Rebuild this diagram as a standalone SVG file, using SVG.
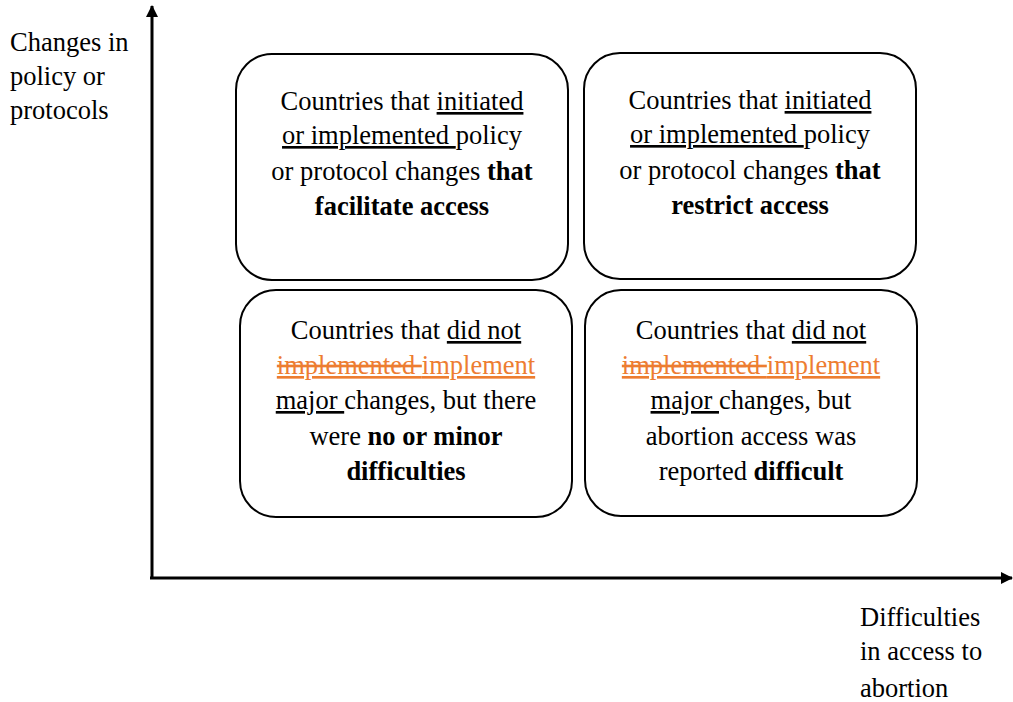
<svg xmlns="http://www.w3.org/2000/svg" width="1013" height="702" viewBox="0 0 1013 702">
  <style>
    .box { fill: #ffffff; stroke: #000000; stroke-width: 2; }
    text { font-family: 'Liberation Serif', 'Times New Roman', serif; font-size: 26.5px; fill: #000000; }
    .c { text-anchor: middle; }
    .b { font-weight: bold; }
    .u { text-decoration: underline; }
    .del { fill: #ED7D31; text-decoration: underline line-through; }
    .ins { fill: #ED7D31; text-decoration: underline; }
    .axis { stroke: #000000; stroke-width: 3; fill: none; }
  </style>
  <defs>
    <marker id="arrow" viewBox="0 0 12 12" refX="11" refY="6" markerWidth="12" markerHeight="12" markerUnits="userSpaceOnUse" orient="auto">
      <path d="M0,0 L12,6 L0,12 Z" fill="#000000"/>
    </marker>
  </defs>

  <!-- axes -->
  <g id="connectors">
    <line class="axis" x1="152" y1="579" x2="152" y2="6" marker-end="url(#arrow)"/>
    <line class="axis" x1="150" y1="578" x2="1012" y2="578" marker-end="url(#arrow)"/>
  </g>

  <!-- axis labels -->
  <g id="y-label">
    <text x="10" y="51">Changes in</text>
    <text x="10" y="85">policy or</text>
    <text x="10" y="119">protocols</text>
  </g>
  <g id="x-label">
    <text x="860" y="626">Difficulties</text>
    <text x="860" y="660">in access to</text>
    <text x="860" y="697">abortion</text>
  </g>

  <!-- top left: facilitate -->
  <g id="facilitate">
    <rect class="box" x="236" y="54" width="332" height="226" rx="36" ry="36"/>
    <text class="c" x="402" y="110">Countries that <tspan class="u">initiated</tspan></text>
    <text class="c" x="402" y="144"><tspan class="u">or implemented </tspan>policy</text>
    <text class="c" x="402" y="180">or protocol changes <tspan class="b">that</tspan></text>
    <text class="c b" x="402" y="215">facilitate access</text>
  </g>

  <!-- top right: restrict -->
  <g id="restrict">
    <rect class="box" x="584" y="53" width="332" height="226" rx="36" ry="36"/>
    <text class="c" x="750" y="109">Countries that <tspan class="u">initiated</tspan></text>
    <text class="c" x="750" y="143"><tspan class="u">or implemented </tspan>policy</text>
    <text class="c" x="750" y="179">or protocol changes <tspan class="b">that</tspan></text>
    <text class="c b" x="750" y="214">restrict access</text>
  </g>

  <!-- bottom left: no or minor difficulties -->
  <g id="no-difficulties">
    <rect class="box" x="240" y="290" width="332" height="227" rx="36" ry="36"/>
    <text class="c" x="406" y="339">Countries that <tspan class="u">did not</tspan></text>
    <text class="c" x="406" y="374"><tspan class="del">implemented </tspan><tspan class="ins">implement</tspan></text>
    <text class="c" x="406" y="409"><tspan class="u">major </tspan>changes, but there</text>
    <text class="c" x="406" y="445">were <tspan class="b">no or minor</tspan></text>
    <text class="c b" x="406" y="480">difficulties</text>
  </g>

  <!-- bottom right: difficult -->
  <g id="difficult">
    <rect class="box" x="585" y="290" width="332" height="226" rx="36" ry="36"/>
    <text class="c" x="751" y="339">Countries that <tspan class="u">did not</tspan></text>
    <text class="c" x="751" y="374"><tspan class="del">implemented </tspan><tspan class="ins">implement</tspan></text>
    <text class="c" x="751" y="409"><tspan class="u">major </tspan>changes, but</text>
    <text class="c" x="751" y="445">abortion access was</text>
    <text class="c" x="751" y="480">reported <tspan class="b">difficult</tspan></text>
  </g>
</svg>
